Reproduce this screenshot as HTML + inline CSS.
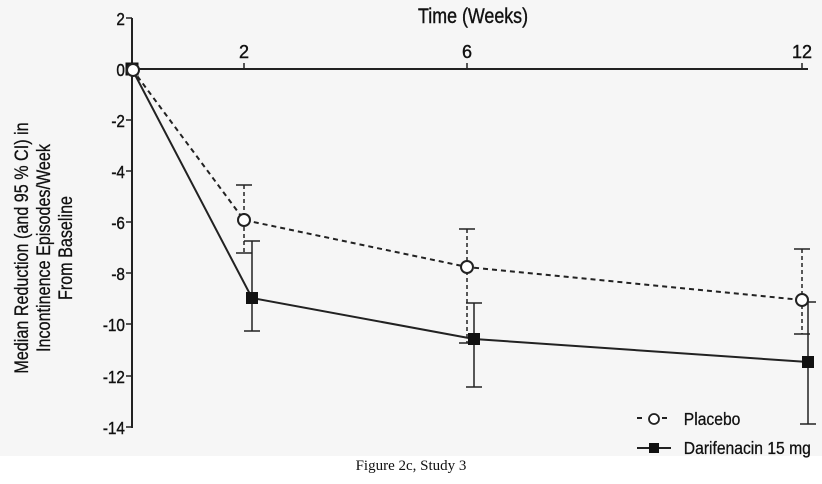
<!DOCTYPE html>
<html><head><style>body{margin:0;background:#fff}svg{display:block}</style></head><body>
<svg width="822" height="484" xmlns="http://www.w3.org/2000/svg" font-family="Liberation Sans, sans-serif">
<rect x="0" y="0" width="822" height="456" fill="#f6f6f6"/>
<g stroke="#222" stroke-width="2" fill="none">
<line x1="132" y1="18" x2="132" y2="428"/>
<line x1="132" y1="69" x2="808" y2="69"/>
<g stroke-width="1.5">
<line x1="126" y1="18" x2="132" y2="18"/><line x1="126" y1="120" x2="132" y2="120"/><line x1="126" y1="171" x2="132" y2="171"/><line x1="126" y1="222" x2="132" y2="222"/><line x1="126" y1="273" x2="132" y2="273"/><line x1="126" y1="324" x2="132" y2="324"/><line x1="126" y1="376" x2="132" y2="376"/><line x1="126" y1="427" x2="132" y2="427"/>
<line x1="244" y1="63" x2="244" y2="69"/><line x1="467" y1="63" x2="467" y2="69"/><line x1="802" y1="63" x2="802" y2="69"/>
</g>
<g stroke-dasharray="4,3" stroke-width="1.5">
<line x1="244" y1="185" x2="244" y2="253"/><line x1="467" y1="229" x2="467" y2="343"/><line x1="802" y1="249" x2="802" y2="334"/>
</g>
<g stroke-width="1.5">
<line x1="236" y1="185" x2="252" y2="185"/><line x1="236" y1="253" x2="252" y2="253"/>
<line x1="459" y1="229" x2="475" y2="229"/><line x1="459" y1="343" x2="475" y2="343"/>
<line x1="794" y1="249" x2="810" y2="249"/><line x1="794" y1="334" x2="810" y2="334"/>
<line x1="252" y1="241" x2="252" y2="331"/><line x1="244" y1="241" x2="260" y2="241"/><line x1="244" y1="331" x2="260" y2="331"/>
<line x1="474" y1="303" x2="474" y2="387"/><line x1="466" y1="303" x2="482" y2="303"/><line x1="466" y1="387" x2="482" y2="387"/>
<line x1="808" y1="302" x2="808" y2="424"/><line x1="800" y1="302" x2="816" y2="302"/><line x1="800" y1="424" x2="816" y2="424"/>
</g>
<polyline points="132,69 252,298 474,339 808,362" stroke-width="2"/>
<polyline points="132,69 244,220 467,267 802,300" stroke-dasharray="5,4" stroke-width="2"/>
</g>
<g fill="#111">
<rect x="126" y="63" width="12" height="12" stroke="#111"/>
<rect x="246" y="292" width="12" height="12"/><rect x="468" y="333" width="12" height="12"/><rect x="802" y="356" width="12" height="12"/>
</g>
<g fill="#fff" stroke="#222" stroke-width="2">
<circle cx="133" cy="70" r="6"/><circle cx="244" cy="220" r="6"/><circle cx="467" cy="267" r="6"/><circle cx="802" cy="300" r="6"/>
</g>
<g font-size="18" fill="#111" stroke="#111" stroke-width="0.4" text-anchor="end" transform="scale(0.85,1)">
<text x="147" y="25">2</text><text x="147" y="76">0</text><text x="147" y="127">-2</text><text x="147" y="178">-4</text><text x="147" y="229">-6</text><text x="147" y="280">-8</text><text x="147" y="331">-10</text><text x="147" y="383">-12</text><text x="147" y="434">-14</text>
</g>
<g font-size="18" fill="#111" stroke="#111" stroke-width="0.4" text-anchor="middle">
<text x="244" y="58">2</text><text x="467" y="58">6</text><text x="802" y="58">12</text>
<text x="473" y="23" font-size="21" transform="translate(71,0) scale(0.85,1)">Time (Weeks)</text>
</g>
<g font-size="19" fill="#111" stroke="#111" stroke-width="0.3" text-anchor="middle" transform="translate(28,248) rotate(-90) scale(0.85,1)">
<text x="0" y="0">Median Reduction (and 95 % CI) in</text>
<text x="0" y="22">Incontinence Episodes/Week</text>
<text x="0" y="44">From Baseline</text>
</g>
<g stroke="#222" stroke-width="2">
<line x1="637" y1="418" x2="642" y2="418"/><line x1="662" y1="418" x2="667" y2="418"/>
<line x1="637" y1="448" x2="671" y2="448"/>
</g>
<circle cx="654" cy="419" r="5" fill="#fff" stroke="#222" stroke-width="1.8"/>
<rect x="649" y="443" width="10" height="10" fill="#111"/>
<g font-size="18" fill="#111" stroke="#111" stroke-width="0.3" transform="scale(0.87,1)">
<text x="786" y="425">Placebo</text>
<text x="786" y="454">Darifenacin 15 mg</text>
</g>
<text x="411" y="470" font-family="Liberation Serif, serif" font-size="15" text-anchor="middle" fill="#111">Figure 2c, Study 3</text>
</svg>
</body></html>
